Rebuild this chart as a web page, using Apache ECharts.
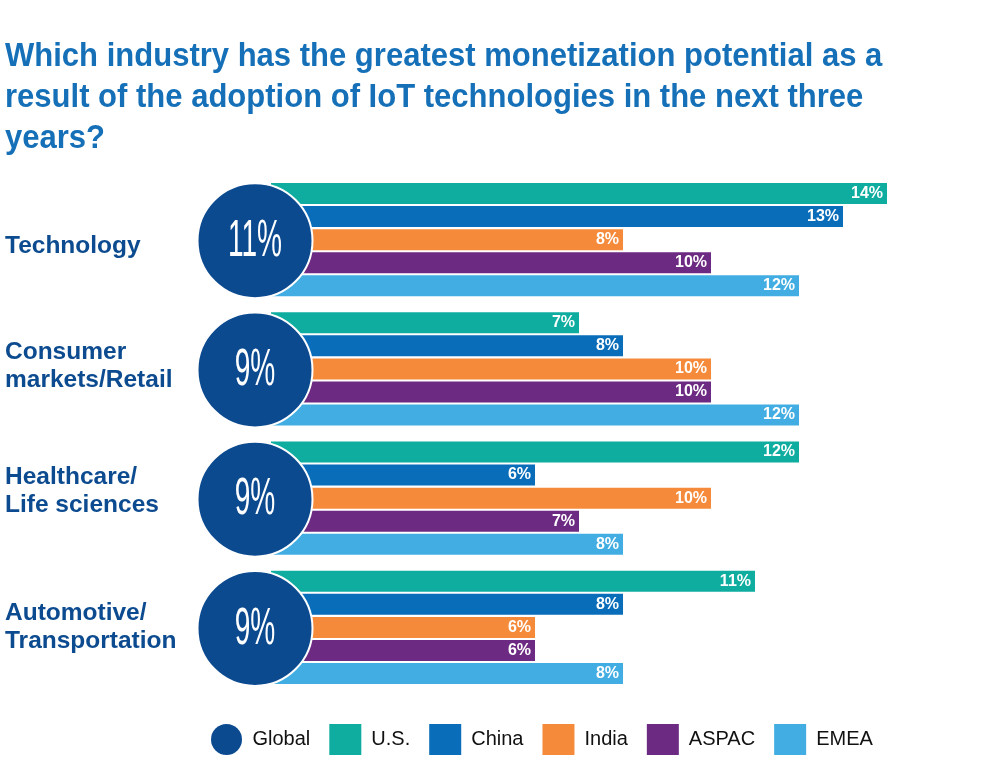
<!DOCTYPE html>
<html>
<head>
<meta charset="utf-8">
<script src="https://cdn.jsdelivr.net/npm/echarts@6/dist/echarts.min.js"></script>
<style>
html,body{margin:0;padding:0;background:#fff;}
#chart{width:986px;height:768px;}
</style>
</head>
<body>
<div id="chart"></div>
<script>
// ---- data ----
const categories = ['Technology', 'Consumer\nmarkets/Retail', 'Healthcare/\nLife sciences', 'Automotive/\nTransportation'];
const globalValues = [11, 9, 9, 9];
const usValues = [14, 7, 12, 11];
const chinaValues = [13, 8, 6, 8];
const indiaValues = [8, 10, 10, 6];
const aspacValues = [10, 10, 7, 6];
const emeaValues = [12, 12, 8, 8];
const seriesNames = ['U.S.', 'China', 'India', 'ASPAC', 'EMEA'];
const titleText = 'Which industry has the greatest monetization potential as a\nresult of the adoption of IoT technologies in the next three\nyears?';

// ---- style ----
const barColors = ['#0eada0', '#0a6db9', '#f58b3a', '#6d2a82', '#42ade2'];
const globalColor = '#0c4a90';
// vertical nudges of the category labels (pixels, + = down)
const labelNudges = [7, -3, -7, 0];
const catBase = {
  align: 'left',
  fontFamily: 'Liberation Sans',
  fontWeight: 'bold',
  fontSize: 24.5,
  lineHeight: 28,
  color: '#0c4b8f'
};
const richStyles = { t: Object.assign({}, catBase) };
labelNudges.forEach((d, i) => {
  richStyles['s' + i] = { fontSize: 1, lineHeight: Math.abs(2 * d), padding: 0 };
});

const chart = echarts.init(document.getElementById('chart'));
const barSeriesData = [usValues, chinaValues, indiaValues, aspacValues, emeaValues];

const series = [{
  name: 'Global',
  type: 'custom',
  z: 10,
  itemStyle: { color: globalColor },
  encode: { x: 0, y: 1 },
  data: globalValues.map((v, i) => [0, i, v]),
  renderItem: function (params, api) {
    const p = api.coord([0, api.value(1)]);
    const cx = p[0] - 16;
    const cy = p[1] + 1;
    return {
      type: 'group',
      children: [{
        type: 'circle',
        shape: { cx: cx, cy: cy, r: 57.5 },
        style: { fill: globalColor, stroke: '#ffffff', lineWidth: 2 }
      }, {
        type: 'text',
        x: cx, y: cy + 1,
        scaleX: 0.54,
        style: {
          text: api.value(2) + '%',
          fill: '#ffffff',
          fontSize: 52,
          fontFamily: 'Liberation Sans',
          fontWeight: 'normal',
          align: 'center',
          verticalAlign: 'middle'
        }
      }]
    };
  }
}];

seriesNames.forEach((name, k) => {
  series.push({
    name: name,
    type: 'bar',
    barWidth: 21,
    barGap: '10%',
    z: 2,
    itemStyle: { color: barColors[k] },
    label: {
      show: true,
      position: 'insideRight',
      distance: 4,
      formatter: '{c}%',
      color: '#ffffff',
      fontWeight: 'bold',
      fontSize: 16,
      fontFamily: 'Liberation Sans'
    },
    data: barSeriesData[k]
  });
});

chart.setOption({
  animation: false,
  backgroundColor: '#ffffff',
  graphic: [{
    type: 'text',
    left: 5,
    top: 36,
    scaleX: 0.94,
    style: {
      text: titleText,
      fontFamily: 'Liberation Sans',
      fontWeight: 'bold',
      fontSize: 33,
      lineHeight: 41,
      fill: '#1570b8'
    }
  }],
  legend: {
    left: 206,
    top: 719,
    itemWidth: 32,
    itemHeight: 31,
    itemGap: 19,
    textStyle: { fontSize: 20, color: '#111', fontFamily: 'Liberation Sans', padding: [0, 0, 0, 5] },
    data: [{ name: 'Global', icon: 'circle' }].concat(seriesNames.map(n => ({ name: n, icon: 'rect' })))
  },
  grid: { left: 227, width: 704, top: 175, height: 517, outerBoundsMode: 'none', containLabel: false },
  xAxis: {
    type: 'value', min: -1, max: 15, show: false
  },
  yAxis: {
    type: 'category',
    inverse: true,
    data: categories,
    axisLine: { show: false },
    axisTick: { show: false },
    splitLine: { show: false },
    axisLabel: Object.assign({
      margin: 222,
      formatter: function (value, index) {
        const body = value.split('\n').map(ln => '{t|' + ln + '}').join('\n');
        const d = labelNudges[index];
        if (d === 0) return body;
        const spacer = '{s' + index + '|\u200b}';
        return d > 0 ? spacer + '\n' + body : body + '\n' + spacer;
      },
      rich: richStyles
    }, catBase)
  },
  series: series
});
</script>
</body>
</html>
